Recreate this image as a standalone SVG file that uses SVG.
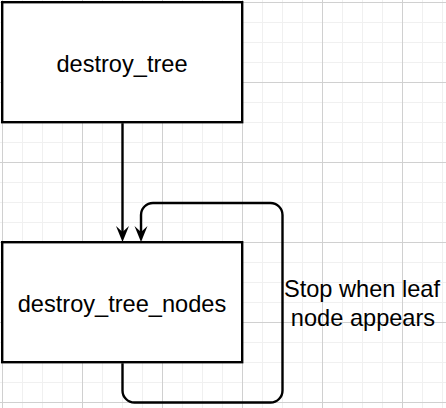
<svg xmlns="http://www.w3.org/2000/svg" width="446" height="408" viewBox="0 0 446 408">
<style>
.minor{stroke:#f0f0f0;stroke-width:1;fill:none}
.major{stroke:#d0d0d0;stroke-width:1;fill:none}
.box{fill:#ffffff;stroke:#000000;stroke-width:2.4}
.edge{fill:none;stroke:#000000;stroke-width:2.4;stroke-linejoin:round}
.lbl{font-family:"Liberation Sans",Arial,Helvetica,sans-serif;font-size:23.6px;fill:#000000;text-anchor:middle}
</style>
<defs>
<marker id="arrow" markerUnits="userSpaceOnUse" orient="auto" viewBox="-8 -8 20 16" markerWidth="20" markerHeight="16" refX="0" refY="0">
<path d="M10,0 L-6,-6.5 L0,0 L-6,6.5 Z" fill="#000000"/>
</marker>
</defs>
<rect width="446" height="408" fill="#ffffff"/>
<g id="grid">
<path class="minor" d="M22.5,0V408M42.5,0V408M62.5,0V408M102.5,0V408M122.5,0V408M142.5,0V408M182.5,0V408M202.5,0V408M222.5,0V408M262.5,0V408M282.5,0V408M302.5,0V408M342.5,0V408M362.5,0V408M382.5,0V408M422.5,0V408M442.5,0V408M0,22.5H446M0,42.5H446M0,62.5H446M0,102.5H446M0,122.5H446M0,142.5H446M0,182.5H446M0,202.5H446M0,222.5H446M0,262.5H446M0,282.5H446M0,302.5H446M0,342.5H446M0,362.5H446M0,382.5H446"/>
<path class="major" d="M2.5,0V408M82.5,0V408M162.5,0V408M242.5,0V408M322.5,0V408M402.5,0V408M0,2.5H446M0,82.5H446M0,162.5H446M0,242.5H446M0,322.5H446M0,402.5H446"/>
</g>
<g id="connectors">
<path class="edge" d="M122.5,123.2V232" marker-end="url(#arrow)"/>
<path class="edge" d="M122.5,363.2V390.5A12,12 0 0 0 134.5,402.5H270.5A12,12 0 0 0 282.5,390.5V215A12,12 0 0 0 270.5,203H153A12,12 0 0 0 141,215V232" marker-end="url(#arrow)"/>
</g>
<g id="destroy_tree">
<rect class="box" x="2.2" y="2.2" width="240" height="120"/>
<text class="lbl" x="122" y="72">destroy_tree</text>
</g>
<g id="destroy_tree_nodes">
<rect class="box" x="2.2" y="242.2" width="240" height="120"/>
<text class="lbl" x="122" y="312">destroy_tree_nodes</text>
</g>
<g id="loop_label">
<text class="lbl" x="362" y="297">Stop when leaf</text>
<text class="lbl" x="363" y="326">node appears</text>
</g>
</svg>
